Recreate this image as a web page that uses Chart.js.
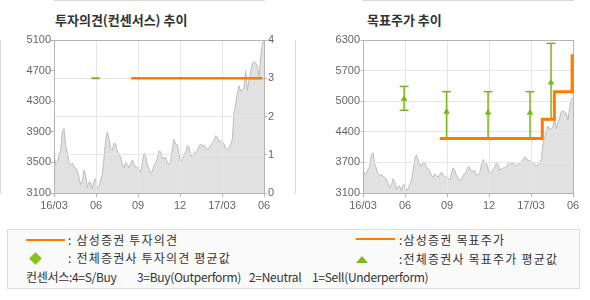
<!DOCTYPE html>
<html><head><meta charset="utf-8">
<script src="https://cdn.jsdelivr.net/npm/chart.js@4/dist/chart.umd.min.js"></script>
<style>
body{margin:0;width:590px;height:300px;background:#fff;position:relative;overflow:hidden;font-family:'Noto Sans CJK KR',sans-serif;}
.title{position:absolute;top:12px;line-height:16px;font-weight:bold;font-size:13px;color:#333;white-space:nowrap;}
canvas{position:absolute;top:0;}
#c1{left:0;} #c2{left:295px;}
.legend{position:absolute;left:7px;top:229px;width:571px;height:58px;border:1px solid #ddd;background:#fafafa;}
.lt{position:absolute;font-size:12px;line-height:16px;color:#333;white-space:nowrap;letter-spacing:1.2px;}
.lt.n{letter-spacing:-0.3px;}
.ll{position:absolute;height:2px;width:39px;background:#ff7a00;}
.dia{position:absolute;width:9px;height:9px;background:#86c21a;transform:rotate(45deg);}
.tri{position:absolute;width:0;height:0;border-left:6.5px solid transparent;border-right:6.5px solid transparent;border-bottom:7px solid #7cba18;}
</style></head>
<body>
<div class="title" style="left:55px">투자의견(컨센서스) 추이</div>
<div class="title" style="left:367px">목표주가 추이</div>
<canvas id="c1" width="295" height="222"></canvas>
<canvas id="c2" width="295" height="222"></canvas>
<div class="legend"></div>
<div class="ll" style="left:26px;top:239px"></div>
<div class="lt" style="left:68px;top:232px">: 삼성증권 투자의견</div>
<div class="dia" style="left:30.5px;top:253.5px"></div>
<div class="lt" style="left:68px;top:250px">: 전체증권사 투자의견 평균값</div>
<div class="lt n" style="left:26px;top:269px">컨센서스:4=S/Buy</div>
<div class="lt n" style="left:137px;top:269px">3=Buy(Outperform)</div>
<div class="lt n" style="left:249px;top:269px">2=Neutral</div>
<div class="lt n" style="left:312px;top:269px">1=Sell(Underperform)</div>
<div class="ll" style="left:356px;top:238px"></div>
<div class="lt" style="left:399px;top:232px">:삼성증권 목표주가</div>
<div class="tri" style="left:356px;top:255.5px"></div>
<div class="lt" style="left:399px;top:251px">:전체증권사 목표주가 평균값</div>
<script>
// ---- data ----
const xTickMonths = [0, 3, 6, 9, 12, 15];
const xTickLabels = ['16/03', '06', '09', '12', '17/03', '06'];
const priceTicks1 = [3100, 3500, 3900, 4300, 4700, 5100];
const opinionTicks = [0, 1, 2, 3, 4];
const priceTicks2 = [3100, 3740, 4380, 5020, 5660, 6300];
const priceTickLabels2 = ['3100', '3700', '4400', '5000', '5700', '6300'];
const priceStart = '2016-03-01';
const priceEnd = '2017-06-01';
const priceValues = [
  3620,3480,3500,3600,3660,3900,3940,3720,3620,3500,
  3470,3490,3450,3420,3390,3300,3210,3250,3400,3340,
  3170,3240,3240,3150,3250,3290,3160,3180,3270,3350,
  3550,3800,3900,3800,3680,3660,3750,3740,3650,3600,
  3570,3470,3430,3500,3470,3430,3480,3530,3480,3440,
  3430,3410,3370,3500,3620,3580,3470,3420,3360,3380,
  3470,3500,3550,3650,3640,3550,3560,3570,3480,3480,
  3520,3680,3800,3740,3730,3600,3500,3550,3590,3640,
  3720,3700,3580,3600,3620,3630,3650,3710,3740,3710,
  3730,3700,3670,3690,3730,3750,3790,3850,3830,3770,
  3780,3760,3740,3680,3670,3690,3730,3800,4150,4260,
  4400,4500,4430,4450,4480,4700,4440,4580,4680,4800,
  4820,4800,4760,4620,4880,5060,5100
];
const opinionDates = ['2016-08-17', '2017-05-29'];
const opinionValues = [3, 3];
const consOpinionDates = ['2016-05-22', '2016-06-09'];
const consOpinionValues = [3, 3];
const targetDates = ['2016-08-16', '2017-03-26', '2017-04-21', '2017-05-30'];
const targetValues = [4240, 4640, 5220, 6000];
const consDates = ['2016-05-30', '2016-08-31', '2016-11-29', '2017-02-27', '2017-04-14'];
const consAvg = [5070, 4800, 4780, 4780, 5410];
const consHigh = [5330, 5220, 5220, 5220, 6230];
const consLow = [4830, 4240, 4240, 4240, 4640];

// ---- helpers ----
function toMonths(d) {
  const [y, m, dd] = d.split('-').map(Number);
  const dim = new Date(y, m, 0).getDate();
  return (y - 2016) * 12 + (m - 3) + (dd - 1) / dim;
}
const pStart = toMonths(priceStart), pEnd = toMonths(priceEnd);
const pricePts = priceValues.map((v, i) => ({x: pStart + i * (pEnd - pStart) / (priceValues.length - 1), y: v}));
const pts = (dates, vals) => dates.map((d, i) => ({x: toMonths(d), y: vals[i]}));

const ORANGE = '#ff7a00', GREEN = '#7cb716';
const BORDER = '#b4b4b4', GRID = '#e6e6e6';
const tickFont = {family: "'Liberation Sans', Arial, sans-serif", size: 11};
const tickColor = '#666';

const layerPlugin = {
  id: 'layer',
  beforeDatasetDraw(chart, args) {
    if (chart.data.datasets[args.index].onTop) return false;
  },
  afterDraw(chart) {
    const ctx = chart.ctx, a = chart.chartArea;
    ctx.save();
    ctx.strokeStyle = BORDER; ctx.lineWidth = 1;
    ctx.strokeRect(Math.floor(a.left) + 0.5, Math.floor(a.top) + 0.5, Math.round(a.right - a.left), Math.round(a.bottom - a.top));
    ctx.restore();
    chart.data.datasets.forEach((ds, i) => {
      if (ds.onTop) {
        const meta = chart.getDatasetMeta(i);
        ctx.save();
        meta.controller.draw();
        ctx.restore();
      }
    });
  }
};

function xScale() {
  return {
    type: 'linear', min: 0, max: 15,
    afterBuildTicks: s => { s.ticks = xTickMonths.map(v => ({value: v})); },
    afterFit: s => { s.height = 29; },
    ticks: {callback: (v, i) => xTickLabels[i], font: tickFont, color: tickColor, padding: 2, maxRotation: 0, autoSkip: false},
    grid: {color: GRID, tickColor: BORDER, tickLength: 4, z: 1},
    border: {color: BORDER}
  };
}
const priceStyle = {
  fill: 'start', backgroundColor: '#e1e1e1', borderColor: '#bcbcbc', borderWidth: 1,
  pointRadius: 0, tension: 0
};

// ---- chart 1 ----
new Chart(document.getElementById('c1'), {
  type: 'line',
  data: {datasets: [
    Object.assign({data: pricePts, yAxisID: 'y'}, priceStyle),
    {data: pts(consOpinionDates, consOpinionValues), yAxisID: 'y1', borderColor: GREEN, borderWidth: 2, pointRadius: 0, onTop: true},
    {data: pts(opinionDates, opinionValues), yAxisID: 'y1', borderColor: ORANGE, borderWidth: 2.5, pointRadius: 0, onTop: true}
  ]},
  options: {
    responsive: false, animation: false, devicePixelRatio: 1,
    layout: {padding: {top: 40, left: 0, right: 0, bottom: 0}},
    plugins: {legend: {display: false}, tooltip: {enabled: false}},
    scales: {
      x: xScale(),
      y: {
        position: 'left', min: 3100, max: 5100,
        afterBuildTicks: s => { s.ticks = priceTicks1.map(v => ({value: v})); },
        afterFit: s => { s.width = 54; },
        ticks: {font: tickFont, color: tickColor, padding: 0, callback: v => String(v)},
        grid: {drawOnChartArea: false, color: BORDER, tickLength: 3},
        border: {color: BORDER}
      },
      y1: {
        position: 'right', min: 0, max: 4,
        afterBuildTicks: s => { s.ticks = opinionTicks.map(v => ({value: v})); },
        afterFit: s => { s.width = 31; },
        ticks: {font: tickFont, color: tickColor, padding: 1, callback: v => String(v)},
        grid: {color: GRID, tickColor: BORDER, tickLength: 3, z: 1},
        border: {color: BORDER}
      }
    }
  },
  plugins: [layerPlugin]
});

// ---- chart 2 ----
const ds2 = [Object.assign({data: pricePts, yAxisID: 'y'}, priceStyle)];
consDates.forEach((d, i) => {
  ds2.push({
    data: [{x: toMonths(d), y: consLow[i]}, {x: toMonths(d), y: consHigh[i]}],
    borderColor: GREEN, borderWidth: 1.5,
    pointStyle: 'line', pointRadius: 4.5, pointBorderColor: GREEN, pointBorderWidth: 1.5,
    onTop: true
  });
});
ds2.push({
  data: pts(consDates, consAvg), showLine: false,
  pointStyle: 'triangle', pointRadius: 3, pointBackgroundColor: GREEN, pointBorderColor: GREEN, pointBorderWidth: 1,
  onTop: true
});
ds2.push({
  data: pts(targetDates, targetValues), stepped: 'before',
  borderColor: ORANGE, borderWidth: 3, pointRadius: 0, onTop: true
});

new Chart(document.getElementById('c2'), {
  type: 'line',
  data: {datasets: ds2},
  options: {
    responsive: false, animation: false, devicePixelRatio: 1,
    layout: {padding: {top: 40, left: 0, right: 17, bottom: 0}},
    plugins: {legend: {display: false}, tooltip: {enabled: false}},
    scales: {
      x: xScale(),
      y: {
        position: 'left', min: 3100, max: 6300,
        afterBuildTicks: s => { s.ticks = priceTicks2.map(v => ({value: v})); },
        afterFit: s => { s.width = 68; },
        ticks: {font: tickFont, color: tickColor, padding: 0, callback: (v, i) => priceTickLabels2[i]},
        grid: {color: GRID, tickColor: '#c8c8c8', tickLength: 3, z: 1},
        border: {color: BORDER}
      }
    }
  },
  plugins: [layerPlugin]
});
</script>
</body></html>
